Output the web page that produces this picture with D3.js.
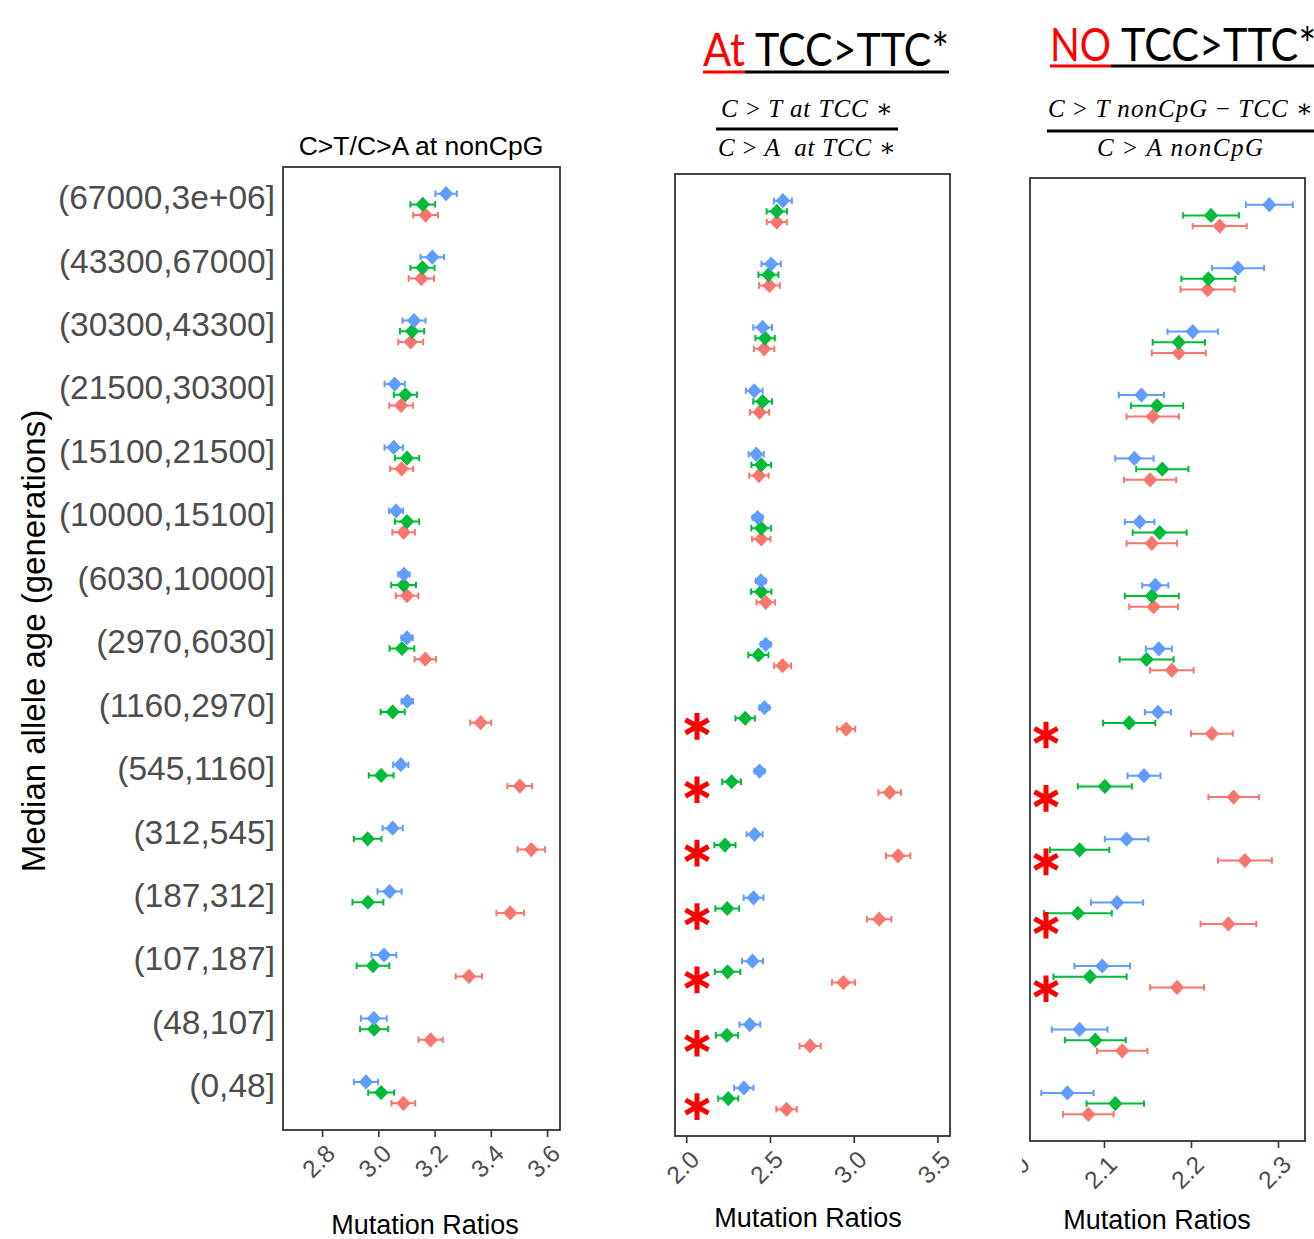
<!DOCTYPE html>
<html>
<head>
<meta charset="utf-8">
<script src="https://cdn.jsdelivr.net/npm/d3@7"></script>
<style>
  body { margin: 0; background: #fff; }
  svg { display: block; }
</style>
</head>
<body>
<svg id="fig" width="1314" height="1239"></svg>
<script>
// ---- Data -------------------------------------------------------------
const ageBins = [
  "(67000,3e+06]", "(43300,67000]", "(30300,43300]", "(21500,30300]",
  "(15100,21500]", "(10000,15100]", "(6030,10000]", "(2970,6030]",
  "(1160,2970]", "(545,1160]", "(312,545]", "(187,312]",
  "(107,187]", "(48,107]", "(0,48]"
];
// three groups, dodged bottom -> top inside each age bin
const groupKeys = ["groupA", "groupB", "groupC"];
const groupColors = ["#F8766D", "#00BA38", "#619CFF"];

// C>T / C>A at nonCpG
const nonCpG_A    = [3.168, 3.153, 3.115, 3.081, 3.083, 3.090, 3.102, 3.167, 3.364, 3.503, 3.544, 3.469, 3.322, 3.186, 3.089];
const nonCpG_A_se = [0.044, 0.045, 0.044, 0.042, 0.041, 0.040, 0.040, 0.038, 0.037, 0.044, 0.049, 0.049, 0.047, 0.043, 0.042];
const nonCpG_B    = [3.158, 3.157, 3.120, 3.096, 3.102, 3.102, 3.090, 3.084, 3.051, 3.010, 2.962, 2.963, 2.981, 2.985, 3.010];
const nonCpG_B_se = [0.044, 0.043, 0.043, 0.041, 0.043, 0.043, 0.044, 0.044, 0.043, 0.044, 0.049, 0.055, 0.058, 0.050, 0.046];
const nonCpG_C    = [3.241, 3.192, 3.127, 3.058, 3.055, 3.063, 3.091, 3.102, 3.103, 3.080, 3.051, 3.040, 3.020, 2.984, 2.956];
const nonCpG_C_se = [0.038, 0.042, 0.041, 0.036, 0.033, 0.025, 0.020, 0.020, 0.020, 0.027, 0.036, 0.043, 0.044, 0.046, 0.043];

// C>T at TCC* / C>A at TCC*
const tcc_A    = [2.541, 2.497, 2.465, 2.438, 2.434, 2.448, 2.475, 2.575, 2.955, 3.215, 3.265, 3.152, 2.939, 2.740, 2.599];
const tcc_A_se = [0.060, 0.062, 0.061, 0.057, 0.058, 0.055, 0.055, 0.051, 0.054, 0.067, 0.073, 0.073, 0.069, 0.063, 0.061];
const tcc_B    = [2.541, 2.491, 2.471, 2.456, 2.448, 2.448, 2.448, 2.431, 2.352, 2.271, 2.231, 2.245, 2.247, 2.243, 2.251];
const tcc_B_se = [0.061, 0.060, 0.058, 0.056, 0.059, 0.059, 0.061, 0.060, 0.058, 0.056, 0.063, 0.071, 0.076, 0.066, 0.060];
const tcc_C    = [2.577, 2.507, 2.456, 2.406, 2.418, 2.426, 2.446, 2.475, 2.467, 2.438, 2.408, 2.402, 2.396, 2.380, 2.344];
const tcc_C_se = [0.054, 0.058, 0.056, 0.050, 0.045, 0.030, 0.030, 0.030, 0.030, 0.030, 0.048, 0.059, 0.063, 0.062, 0.058];

// C>T nonCpG-TCC* / C>A nonCpG
const noTcc_A    = [2.233, 2.219, 2.186, 2.156, 2.153, 2.155, 2.157, 2.178, 2.224, 2.249, 2.262, 2.243, 2.184, 2.121, 2.082];
const noTcc_A_se = [0.031, 0.031, 0.031, 0.030, 0.030, 0.029, 0.028, 0.025, 0.024, 0.029, 0.031, 0.032, 0.031, 0.029, 0.029];
const noTcc_B    = [2.223, 2.220, 2.186, 2.161, 2.167, 2.164, 2.155, 2.149, 2.129, 2.101, 2.072, 2.070, 2.084, 2.090, 2.113];
const noTcc_B_se = [0.032, 0.031, 0.030, 0.030, 0.030, 0.031, 0.031, 0.031, 0.030, 0.031, 0.034, 0.039, 0.042, 0.035, 0.033];
const noTcc_C    = [2.290, 2.254, 2.202, 2.143, 2.135, 2.141, 2.159, 2.163, 2.162, 2.146, 2.126, 2.115, 2.098, 2.072, 2.058];
const noTcc_C_se = [0.027, 0.030, 0.029, 0.026, 0.022, 0.017, 0.015, 0.015, 0.015, 0.019, 0.025, 0.030, 0.032, 0.032, 0.030];

// significant age bins (marked with a red asterisk)
const tccSignificant   = ["(1160,2970]", "(545,1160]", "(312,545]", "(187,312]", "(107,187]", "(48,107]", "(0,48]"];
const noTccSignificant = ["(1160,2970]", "(545,1160]", "(312,545]", "(187,312]", "(107,187]"];

// axis ticks and ranges
const ticks1 = [2.8, 3.0, 3.2, 3.4, 3.6];
const ticks2 = [2.0, 2.5, 3.0, 3.5];
const ticks3 = [2.0, 2.1, 2.2, 2.3];
const domain1 = [2.661, 3.646];
const domain2 = [1.933, 3.575];
const domain3 = [2.015, 2.331];

const xAxisTitle = "Mutation Ratios";
const yAxisTitle = "Median allele age (generations)";

// ---- Layout -----------------------------------------------------------
const svg = d3.select("#fig");
const ROW_INSET = 37.4;   // distance from panel edge to first/last bin centre
const DODGE = 10.7;       // vertical offset between groups
const FONT = "'Liberation Sans', Arial, Helvetica, sans-serif";

const panels = [
  { left: 283, right: 560, top: 167, bottom: 1130, domain: domain1, ticks: ticks1,
    series: [[nonCpG_A, nonCpG_A_se], [nonCpG_B, nonCpG_B_se], [nonCpG_C, nonCpG_C_se]],
    stars: [], xTitleX: 425, xTitleY: 1234, labels: true },
  { left: 675, right: 950, top: 174, bottom: 1136, domain: domain2, ticks: ticks2,
    series: [[tcc_A, tcc_A_se], [tcc_B, tcc_B_se], [tcc_C, tcc_C_se]],
    stars: tccSignificant, starDx: 22, starDy: 8, xTitleX: 808, xTitleY: 1227, labels: false },
  { left: 1030, right: 1305, top: 178, bottom: 1141, domain: domain3, ticks: ticks3,
    series: [[noTcc_A, noTcc_A_se], [noTcc_B, noTcc_B_se], [noTcc_C, noTcc_C_se]],
    stars: noTccSignificant, starDx: 16, starDy: 12, xTitleX: 1157, xTitleY: 1229, labels: false, clipAxis: 1022 }
];

const defs = svg.append("defs");

panels.forEach((p, pi) => {
  const g = svg.append("g").attr("class", "panel");
  const x = d3.scaleLinear().domain(p.domain).range([p.left, p.right]);
  const y = d3.scalePoint().domain(ageBins).range([p.top + ROW_INSET, p.bottom - ROW_INSET]);
  const dodge = d3.scalePoint().domain(groupKeys).range([DODGE, -DODGE]);

  // x axis
  const axisG = g.append("g")
    .attr("transform", `translate(0,${p.bottom})`)
    .call(d3.axisBottom(x).tickValues(p.ticks).tickSize(7).tickFormat(d3.format(".1f")));
  axisG.select(".domain").remove();
  axisG.selectAll(".tick line").attr("stroke", "#333").attr("stroke-width", 1.6);
  axisG.selectAll(".tick text")
    .attr("x", 0).attr("y", 0).attr("dy", "0.35em")
    .attr("text-anchor", "end")
    .attr("transform", "translate(8,19) rotate(-45)")
    .attr("font-family", FONT).attr("font-size", 24.5).attr("fill", "#4D4D4D");
  if (p.clipAxis) {
    // the left-most tick lies outside the drawn area; keep only what is right of the cut
    const id = "axclip" + pi;
    defs.append("clipPath").attr("id", id).append("rect")
      .attr("x", p.clipAxis).attr("y", -5).attr("width", 1314 - p.clipAxis).attr("height", 120);
    axisG.attr("clip-path", `url(#${id})`);
  }

  // x axis title
  g.append("text")
    .attr("x", p.xTitleX).attr("y", p.xTitleY)
    .attr("text-anchor", "middle")
    .attr("font-family", FONT).attr("font-size", 27).attr("fill", "#000")
    .text(xAxisTitle);

  // y category labels
  if (p.labels) {
    g.selectAll("text.ylab").data(ageBins).join("text")
      .attr("class", "ylab")
      .attr("x", p.left - 8).attr("y", d => y(d) - 7).attr("dy", "0.35em")
      .attr("text-anchor", "end")
      .attr("font-family", FONT).attr("font-size", 33.5).attr("fill", "#4D4D4D")
      .text(d => d);
  }

  // error bars and diamonds, one group after another
  p.series.forEach(([vals, se], si) => {
    const key = groupKeys[si];
    const col = groupColors[si];
    const rows = ageBins.map((bin, i) => ({ bin, v: vals[i], e: se[i], cy: y(bin) + dodge(key) }));
    const sg = g.append("g").attr("class", key);
    sg.selectAll("path.err").data(rows).join("path")
      .attr("class", "err")
      .attr("d", d => {
        const x0 = x(d.v - d.e), x1 = x(d.v + d.e), c = 3.2;
        return `M${x0},${d.cy}H${x1}M${x0},${d.cy - c}V${d.cy + c}M${x1},${d.cy - c}V${d.cy + c}`;
      })
      .attr("fill", "none").attr("stroke", col).attr("stroke-width", 2);
    sg.selectAll("path.pt").data(rows).join("path")
      .attr("class", "pt")
      .attr("d", d => {
        const cx = x(d.v), hx = 7.2, hy = 7.6;
        return `M${cx},${d.cy - hy}L${cx + hx},${d.cy}L${cx},${d.cy + hy}L${cx - hx},${d.cy}Z`;
      })
      .attr("fill", col);
  });

  // significance asterisks
  g.selectAll("path.star").data(p.stars).join("path")
    .attr("class", "star")
    .attr("d", d3.symbol(d3.symbolAsterisk, 500)())
    .attr("transform", d => `translate(${p.left + p.starDx},${y(d) + p.starDy})`)
    .attr("fill", "none").attr("stroke", "#FF0000").attr("stroke-width", 5);

  // panel border
  g.append("rect")
    .attr("x", p.left).attr("y", p.top)
    .attr("width", p.right - p.left).attr("height", p.bottom - p.top)
    .attr("fill", "none").attr("stroke", "#333").attr("stroke-width", 1.8);
});

// y axis title
svg.append("text")
  .attr("transform", "translate(33,641) rotate(-90)")
  .attr("text-anchor", "middle").attr("dy", "0.35em")
  .attr("font-family", FONT).attr("font-size", 33).attr("fill", "#000")
  .text(yAxisTitle);

// first panel title
svg.append("text")
  .attr("x", 421).attr("y", 155)
  .attr("text-anchor", "middle")
  .attr("font-family", FONT).attr("font-size", 26.5).attr("fill", "#000")
  .text("C>T/C>A at nonCpG");

// underlined two-colour headings
const TITLE_FONT = "Lato, 'Open Sans', sans-serif";
function heading(x0, baseline, redPart, redLen, blackPart, blackLen, lineY) {
  svg.append("text")
    .attr("x", x0).attr("y", baseline)
    .attr("font-family", TITLE_FONT).attr("font-size", 47).attr("fill", "#FF0000")
    .attr("textLength", redLen).attr("lengthAdjust", "spacingAndGlyphs")
    .text(redPart);
  svg.append("text")
    .attr("x", x0 + redLen + 10).attr("y", baseline)
    .attr("font-family", TITLE_FONT).attr("font-size", 47).attr("fill", "#000")
    .attr("textLength", blackLen - 10).attr("lengthAdjust", "spacingAndGlyphs")
    .text(blackPart);
  svg.append("line").attr("x1", x0).attr("x2", x0 + redLen).attr("y1", lineY).attr("y2", lineY)
    .attr("stroke", "#FF0000").attr("stroke-width", 3);
  svg.append("line").attr("x1", x0 + redLen).attr("x2", x0 + redLen + blackLen).attr("y1", lineY).attr("y2", lineY)
    .attr("stroke", "#000").attr("stroke-width", 3);
}
heading(703, 66, "At", 42, "TCC>TTC*", 204, 72);
heading(1050, 61, "NO", 61, "TCC>TTC*", 205, 66);

// ratio formulas
const MATH_FONT = "'Liberation Serif', 'DejaVu Serif', serif";
function formulaLine(cx, baseline, parts, len, anchor) {
  const t = svg.append("text")
    .attr("x", cx).attr("y", baseline)
    .attr("text-anchor", anchor || "middle")
    .attr("font-family", MATH_FONT).attr("font-size", 25).attr("fill", "#000")
    .attr("xml:space", "preserve");
  parts.forEach(([s, it]) => t.append("tspan").attr("font-style", it ? "italic" : "normal").text(s));
  if (len) t.attr("textLength", len).attr("lengthAdjust", "spacing");
  return t;
}
formulaLine(807, 117, [["C", 1], [" > ", 0], ["T", 1], [" at ", 1], ["TCC", 1], [" \u2217", 0]], 172);
svg.append("line").attr("x1", 716).attr("x2", 898).attr("y1", 129).attr("y2", 129)
  .attr("stroke", "#000").attr("stroke-width", 3);
formulaLine(807, 156, [["C", 1], [" > ", 0], ["A", 1], ["  at ", 1], ["TCC", 1], [" \u2217", 0]], 178);

formulaLine(1048, 117, [["C", 1], [" > ", 0], ["T", 1], [" nonCpG ", 1], ["\u2212", 0], [" TCC", 1], [" \u2217", 0]], 265, "start");
svg.append("line").attr("x1", 1047).attr("x2", 1314).attr("y1", 131).attr("y2", 131)
  .attr("stroke", "#000").attr("stroke-width", 3);
formulaLine(1180, 156, [["C", 1], [" > ", 0], ["A", 1], [" nonCpG", 1]], 166);
</script>
</body>
</html>
